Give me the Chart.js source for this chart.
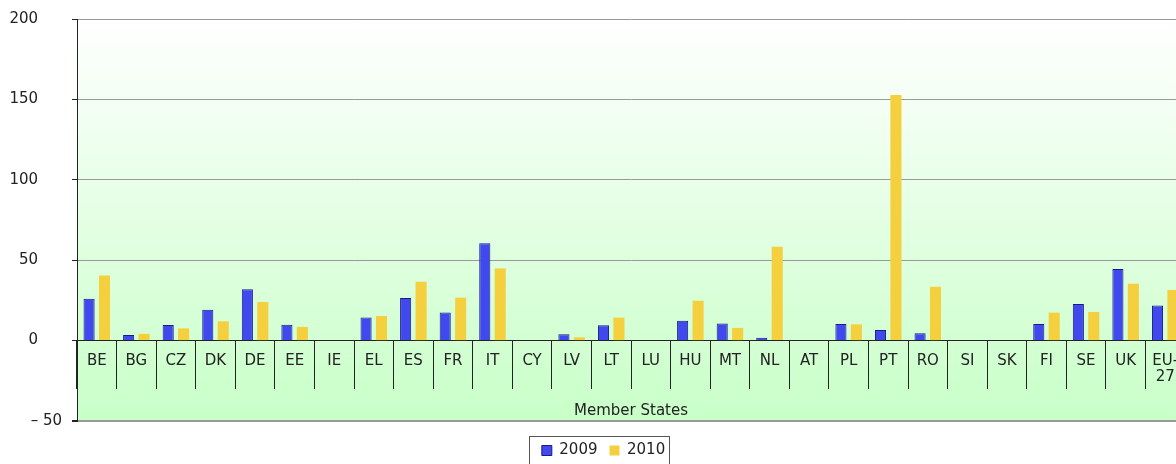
<!DOCTYPE html>
<html>
<head>
<meta charset="utf-8">
<script src="https://cdn.jsdelivr.net/npm/chart.js@4"></script>
<style>
  html, body { margin: 0; padding: 0; background: #fff; overflow: hidden; }
  #wrap { width: 1176px; height: 464px; overflow: hidden; }
</style>
</head>
<body>
<div id="wrap"><canvas id="chart" width="1186" height="468"></canvas></div>
<script>
const categories = ['BE', 'BG', 'CZ', 'DK', 'DE', 'EE', 'IE', 'EL', 'ES', 'FR', 'IT', 'CY', 'LV', 'LT',
  'LU', 'HU', 'MT', 'NL', 'AT', 'PL', 'PT', 'RO', 'SI', 'SK', 'FI', 'SE', 'UK', ['EU-', '27']];

const values2009 = [26, 3.5, 9.7, 19.2, 32, 9.9, null, 14.3, 26.5, 17.4, 60.5, null, 3.9, 9.5,
  null, 12.4, 10.6, 1.7, null, 10.4, 6.6, 4.5, null, null, 10.4, 22.8, 44.5, 21.9];
const values2010 = [40.5, 4.2, 7.6, 12, 24, 8.5, null, 15.3, 36.6, 26.7, 44.9, null, 2, 14.3,
  null, 24.8, 7.9, 58.4, null, 10.1, 152.8, 33.5, null, null, 17.4, 17.8, 35.4, 31.5];

const yTicks = [-50, 0, 50, 100, 150, 200];
const yTickLabels = ['– 50', '0', '50', '100', '150', '200'];

Chart.defaults.font.family = "'DejaVu Sans', Verdana, sans-serif";
Chart.defaults.font.size = 15;
Chart.defaults.color = '#222';

const plotBackground = {
  id: 'plotBackground',
  beforeDraw(chart) {
    const {ctx, chartArea: a} = chart;
    const g = ctx.createLinearGradient(0, a.top, 0, a.bottom);
    g.addColorStop(0, '#ffffff');
    g.addColorStop(1, '#c8ffc8');
    ctx.save();
    ctx.fillStyle = g;
    ctx.fillRect(a.left, a.top, a.right - a.left, a.bottom - a.top);
    ctx.restore();
  }
};

// legend sits a little right of the canvas centre in the original
const legendShift = {
  id: 'legendShift',
  afterLayout(chart) {
    chart.legend.left += 11;
    chart.legend.right += 11;
  }
};

const legendFrame = {
  id: 'legendFrame',
  afterDraw(chart) {
    const boxes = chart.legend.legendHitBoxes;
    if (!boxes || !boxes.length) return;
    const first = boxes[0], last = boxes[boxes.length - 1];
    const mid = first.top + first.height / 2;
    const ctx = chart.ctx;
    ctx.save();
    ctx.strokeStyle = '#555';
    ctx.lineWidth = 1;
    ctx.strokeRect(Math.round(first.left - 13) + 0.5, Math.round(mid - 15) + 0.5,
      Math.round(last.left + last.width + 4 - (first.left - 13)), 30);
    ctx.restore();
  }
};

new Chart(document.getElementById('chart'), {
  type: 'bar',
  data: {
    labels: categories,
    datasets: [
      {
        label: '2009',
        data: values2009,
        backgroundColor: '#4049ee',
        borderColor: '#1a1a80',
        borderWidth: 1
      },
      {
        label: '2010',
        data: values2010,
        backgroundColor: '#f4d03f',
        borderWidth: 0
      }
    ]
  },
  options: {
    responsive: false,
    animation: false,
    layout: { padding: { left: 0, right: 1, top: 18, bottom: 0 } },
    datasets: {
      bar: { categoryPercentage: 0.78, barPercentage: 0.72 }
    },
    plugins: {
      tooltip: { enabled: false },
      legend: {
        position: 'bottom',
        labels: { boxWidth: 10, boxHeight: 10, padding: 12 },
        title: { display: true, text: '', font: { size: 10, lineHeight: 1 }, padding: 0 }
      }
    },
    scales: {
      x: {
        position: { y: 0 },
        offset: true,
        grid: { offset: true, drawOnChartArea: false, tickLength: 48, color: '#222' },
        border: { color: '#222' },
        ticks: { padding: -36, maxRotation: 0, autoSkip: false, font: { lineHeight: 1.1 } },
        title: { display: true, text: 'Member States', padding: { top: 53, bottom: 0 } }
      },
      y: {
        min: -50,
        max: 200,
        afterFit(scale) { scale.width = 77; },
        ticks: {
          stepSize: 50,
          padding: 10,
          callback(value) {
            const label = yTickLabels[yTicks.indexOf(value)];
            return value < 0 ? label : label + '     ';
          }
        },
        grid: {
          tickLength: 5,
          tickColor: '#222',
          color: ctx => ctx.tick && ctx.tick.value === 0 ? '#222' : '#999',
          lineWidth: ctx => ctx.tick && ctx.tick.value === -50 ? 2 : 1
        },
        border: { color: '#222' }
      }
    }
  },
  plugins: [plotBackground, legendShift, legendFrame]
});
</script>
</body>
</html>
